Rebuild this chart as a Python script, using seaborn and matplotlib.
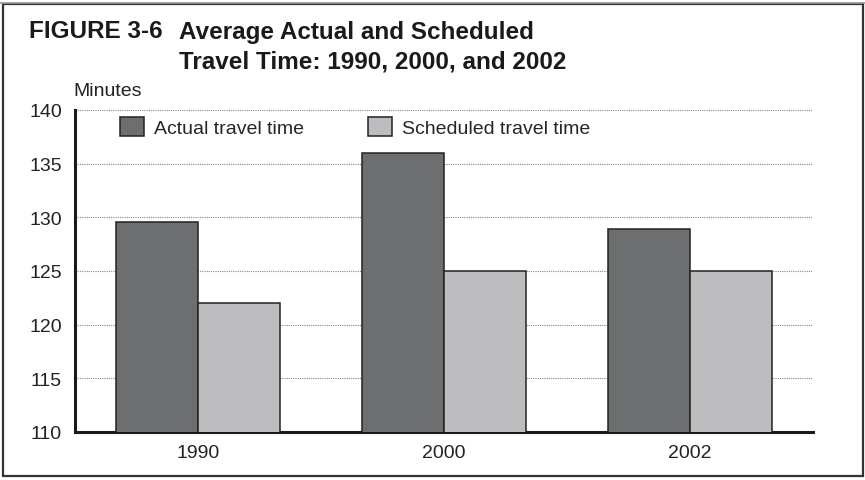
import matplotlib
matplotlib.use("Agg")
import matplotlib.pyplot as plt
import matplotlib.patches as mpatches
import pandas as pd
import seaborn as sns

years = ["1990", "2000", "2002"]
series = ["Actual travel time", "Scheduled travel time"]
actual = [129.6, 136.0, 128.9]
scheduled = [122.0, 125.0, 125.0]
y_ticks = [110, 115, 120, 125, 130, 135, 140]

colors = {"Actual travel time": "#6d6e70", "Scheduled travel time": "#bcbdc0"}

df = pd.DataFrame({
    "year": years * 2,
    "series": [series[0]] * 3 + [series[1]] * 3,
    "minutes": actual + scheduled,
})

sns.set_style("white")
NARROW = ["Liberation Sans Narrow", "Liberation Sans", "DejaVu Sans"]
BOLD = ["Liberation Sans", "DejaVu Sans"]
plt.rcParams["font.family"] = NARROW

fig = plt.figure(figsize=(8.65, 4.81), dpi=100)
ax = fig.add_axes([75 / 865, 1 - 433 / 481, (813 - 75) / 865, (433 - 111) / 481])

sns.barplot(
    data=df, x="year", y="minutes", hue="series",
    palette=colors, width=0.67, edgecolor="#222222", linewidth=1.1,
    legend=False, ax=ax, zorder=3,
)

ax.set_ylim(110, 140)
ax.set_xlim(-0.5, 2.5)
ax.set_yticks(y_ticks)
ax.set_xlabel("")
ax.set_ylabel("")
ax.tick_params(axis="both", length=0, labelsize=14, colors="#222222")
ax.tick_params(axis="y", pad=9.5)
ax.tick_params(axis="x", pad=9)
ax.yaxis.grid(True, linestyle=(0, (1, 1)), color="#888888", linewidth=0.8, zorder=0)
ax.set_axisbelow(True)
for side in ["top", "right"]:
    ax.spines[side].set_visible(False)
ax.spines["left"].set_linewidth(2.2)
ax.spines["bottom"].set_linewidth(2.2)
ax.spines["left"].set_color("#1a1a1a")
ax.spines["bottom"].set_color("#1a1a1a")

handles = [mpatches.Patch(facecolor=colors[s], edgecolor="#222222", linewidth=1.1, label=s)
           for s in series]
ax.legend(handles=handles, loc="upper left", bbox_to_anchor=(0.058, 0.985), ncol=2,
          frameon=False, fontsize=14, handlelength=1.24, handleheight=1.18,
          handletextpad=0.5, columnspacing=3.3, borderpad=0.1, borderaxespad=0)

fig.text(73 / 865, 1 - 92 / 481, "Minutes", fontsize=14, va="center", ha="left",
         color="#222222")
fig.text(29 / 865, 1 - 32 / 481, "FIGURE 3-6", fontsize=17.5, fontweight="bold",
         family=BOLD, va="center", ha="left", color="#1a1a1a")
fig.text(179 / 865, 1 - 32 / 481, "Average Actual and Scheduled", fontsize=17.5,
         fontweight="bold", family=BOLD, va="center", ha="left", color="#1a1a1a")
fig.text(179 / 865, 1 - 62 / 481, "Travel Time: 1990, 2000, and 2002", fontsize=17.5,
         fontweight="bold", family=BOLD, va="center", ha="left", color="#1a1a1a")

# outer frame
fig.add_artist(mpatches.Rectangle((3 / 865, 1 - 476.5 / 481), 860 / 865, 472 / 481,
                                  transform=fig.transFigure, fill=False,
                                  edgecolor="#333333", linewidth=1.6))
fig.add_artist(plt.Line2D([0, 1], [1 - 4 / 481, 1 - 4 / 481], transform=fig.transFigure,
                          color="#999999", linewidth=1.2))

fig.savefig("out.png", dpi=100)
